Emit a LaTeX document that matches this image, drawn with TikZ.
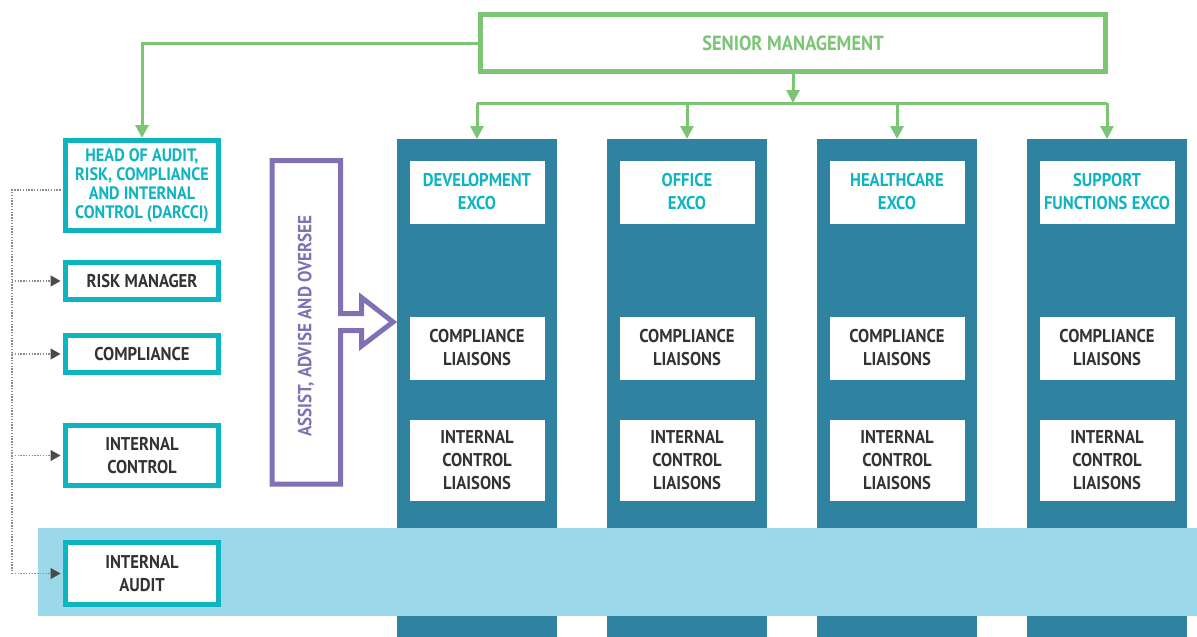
\documentclass[tikz,border=0pt]{standalone}
\usepackage{fontspec}
\setmainfont[FakeStretch=0.9]{PT Sans}
\usetikzlibrary{arrows.meta}
\definecolor{grn}{HTML}{7CC576}
\definecolor{colteal}{HTML}{2F83A0}
\definecolor{bandc}{HTML}{9BD9EA}
\definecolor{cyanb}{HTML}{0EB4C0}
\definecolor{purp}{HTML}{8170B4}
\definecolor{txt}{HTML}{333333}
\definecolor{dotc}{HTML}{8C8C8C}
\definecolor{tipc}{HTML}{4A4A4A}
\begin{document}
\begin{tikzpicture}[x=1pt,y=-1pt,
  lbl/.style={font=\fontsize{18.5}{23}\selectfont\bfseries, align=center, inner sep=0pt},
  leftbox/.style={lbl, draw=cyanb, line width=5pt, fill=white, minimum width=153pt, text=txt},
  column/.style={fill=colteal, minimum width=160pt, minimum height=498pt, anchor=north west, inner sep=0pt, outer sep=0pt},
  wbox/.style={lbl, fill=white, minimum width=135pt, text=txt},
  garrow/.style={draw=grn, line width=3pt, -{Triangle[width=13pt,length=13pt]}},
  gline/.style={draw=grn, line width=3pt},
  dotline/.style={draw=dotc, line width=1.3pt, dash pattern=on 1.4pt off 1.4pt},
  darrow/.style={dotline, shorten >=2.5pt, -{Triangle[width=11pt,length=10pt,color=tipc]}}]
\useasboundingbox (0,0) rectangle (1197,637);

% columns
\node[column] (c1) at (397,139) {};
\node[column] (c2) at (607,139) {};
\node[column] (c3) at (817,139) {};
\node[column] (c4) at (1027,139) {};

% exco boxes
\node[wbox, minimum height=63pt, text=cyanb] (dev) at (477,192) {DEVELOPMENT\\EXCO};
\node[wbox, minimum height=63pt, text=cyanb] (off) at (687,192) {OFFICE\\EXCO};
\node[wbox, minimum height=63pt, text=cyanb] (hc) at (897,192) {HEALTHCARE\\EXCO};
\node[wbox, minimum height=63pt, text=cyanb] (sup) at (1107,192) {SUPPORT\\FUNCTIONS EXCO};

% compliance liaisons
\node[wbox, minimum height=63pt] (cl1) at (477,348) {COMPLIANCE\\LIAISONS};
\node[wbox, minimum height=63pt] (cl2) at (687,348) {COMPLIANCE\\LIAISONS};
\node[wbox, minimum height=63pt] (cl3) at (897,348) {COMPLIANCE\\LIAISONS};
\node[wbox, minimum height=63pt] (cl4) at (1107,348) {COMPLIANCE\\LIAISONS};

% internal control liaisons
\node[wbox, minimum height=81pt] (icl1) at (477,460.5) {INTERNAL\\CONTROL\\LIAISONS};
\node[wbox, minimum height=81pt] (icl2) at (687,460.5) {INTERNAL\\CONTROL\\LIAISONS};
\node[wbox, minimum height=81pt] (icl3) at (897,460.5) {INTERNAL\\CONTROL\\LIAISONS};
\node[wbox, minimum height=81pt] (icl4) at (1107,460.5) {INTERNAL\\CONTROL\\LIAISONS};

% band
\node[fill=bandc, inner sep=0pt, outer sep=0pt, minimum width=1159pt, minimum height=88pt, anchor=north west] (band) at (38,528) {};

% senior management
\node[lbl, font=\fontsize{20.5}{24}\selectfont\bfseries, draw=grn, line width=5pt, fill=white, minimum width=625pt, minimum height=57pt, text=grn] (sm) at (793,43) {SENIOR MANAGEMENT};

% left boxes
\node[leftbox, font=\fontsize{18}{19}\selectfont\bfseries, minimum height=90pt, text=cyanb] (head) at (142,185.5) {HEAD OF AUDIT,\\RISK, COMPLIANCE\\AND INTERNAL\\CONTROL (DARCCI)};
\node[leftbox, minimum height=37pt] (risk) at (142,281) {RISK MANAGER};
\node[leftbox, minimum height=37pt] (comp) at (142,354) {COMPLIANCE};
\node[leftbox, minimum height=60pt] (ic) at (142,455.5) {INTERNAL\\CONTROL};
\node[leftbox, minimum height=62pt] (audit) at (142,573.5) {INTERNAL\\AUDIT};

% green connectors
\coordinate (split) at (793,103);
\draw[garrow] (sm.south) -- (split);
\draw[gline] (c1.north |- split) -- (c4.north |- split);
\draw[garrow] (c1.north |- split) -- (c1.north);
\draw[garrow] (c2.north |- split) -- (c2.north);
\draw[garrow] (c3.north |- split) -- (c3.north);
\draw[garrow] (c4.north |- split) -- (c4.north);
\draw[garrow] (sm.west) -| (head.north);

% dotted connectors
\coordinate (dl) at (12,190);
\draw[dotline] ([xshift=-2.5pt]head.west |- dl) -- (dl) -- (dl |- audit.west);
\draw[darrow] (dl |- risk.west) -- (risk.west);
\draw[darrow] (dl |- comp.west) -- (comp.west);
\draw[darrow] (dl |- ic.west) -- (ic.west);
\draw[darrow] (dl |- audit.west) -- (audit.west);

% purple arrow
\draw[purp, line width=5pt, line join=miter] (272,160.5) -- (340.5,160.5) -- (340.5,313.5) -- (361.5,313.5) -- (361.5,297.5) -- (393,322) -- (361.5,346) -- (361.5,330.5) -- (340.5,330.5) -- (340.5,484) -- (272,484) -- cycle;
\node[lbl, font=\fontsize{19}{23}\selectfont\bfseries, text=purp, rotate=90] (aao) at (306,326) {ASSIST, ADVISE AND OVERSEE};
\end{tikzpicture}
\end{document}
